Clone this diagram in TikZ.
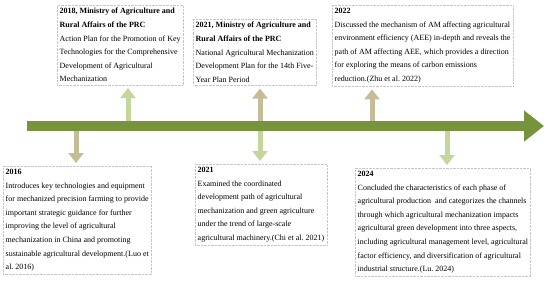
\documentclass[tikz,border=0pt]{standalone}
\usepackage{fontspec}
\setmainfont{Liberation Serif}
\usetikzlibrary{arrows.meta}
\definecolor{axisgreen}{RGB}{119,147,60}
\definecolor{khaki}{RGB}{196,189,151}
\definecolor{palegreen}{RGB}{195,214,155}
\frenchspacing
\begin{document}
\begin{tikzpicture}[x=1pt,y=-1pt]

    \tikzset{
      event/.style={
        draw=gray!45,
        densely dotted,
        anchor=north west,
        align=left,
        inner xsep=2.5pt,
        inner ysep=3pt,
        font=\fontsize{8}{13.6}\selectfont,
      },
      timeline/.style={
        axisgreen,
        line width=10pt,
        -{Triangle[width=30pt,length=20pt]},
      },
      khakilink/.style={
        khaki,
        line width=5pt,
        -{Triangle[width=15pt,length=10pt]},
        shorten >=3pt,
      },
      greenlink/.style={
        palegreen,
        line width=5pt,
        -{Triangle[width=15pt,length=10pt]},
        shorten >=3pt,
      },
    }
    \useasboundingbox (0,0) rectangle (550,281);

    % events above and below the line
    \node[event] (n2016) at (3,166) {\textbf{2016}\\Introduces key technologies and equipment\\for mechanized precision farming to provide\\important strategic guidance for further\\improving the level of agricultural\\mechanization in China and promoting\\sustainable agricultural development.(Luo et\\al. 2016)};
    \node[event] (n2018) at (57,5) {\textbf{2018, Ministry of Agriculture and}\\\textbf{Rural Affairs of the PRC}\\Action Plan for the Promotion of Key\\Technologies for the Comprehensive\\Development of Agricultural\\Mechanization};
    \node[event] (n2021a) at (193,19) {\textbf{2021, Ministry of Agriculture and}\\\textbf{Rural Affairs of the PRC}\\National Agricultural Mechanization\\Development Plan for the 14th Five-\\Year Plan Period};
    \node[event] (n2022) at (332,5) {\textbf{2022}\\Discussed the mechanism of AM affecting agricultural\\environment efficiency (AEE) in-depth and reveals the\\path of AM affecting AEE, which provides a direction\\for exploring the means of carbon emissions\\reduction.(Zhu et al. 2022)};
    \node[event] (n2021b) at (195,164) {\textbf{2021}\\Examined the coordinated\\development path of agricultural\\mechanization and green agriculture\\under the trend of large-scale\\agricultural machinery.(Chi et al. 2021)};
    \node[event] (n2024) at (355,168) {\textbf{2024}\\Concluded the characteristics of each phase of\\agricultural production~ and categorizes the channels\\through which agricultural mechanization impacts\\agricultural green development into three aspects,\\including agricultural management level, agricultural\\factor efficiency, and diversification of agricultural\\industrial structure.(Lu. 2024)};

    \coordinate (start) at (27,126);
    \coordinate (end) at (544,126);
    \coordinate (t2016) at (76,126);
    \coordinate (t2018) at (128,126);
    \coordinate (t2021) at (260,126);
    \coordinate (t2022) at (372,126);
    \coordinate (t2024) at (447,126);

    \draw[khakilink] (t2016) -- (t2016 |- n2016.north);
    \draw[greenlink] (t2018) -- (t2018 |- n2018.south);
    \draw[khakilink] (t2021) -- (t2021 |- n2021a.south);
    \draw[greenlink] (t2021) -- (t2021 |- n2021b.north);
    \draw[khakilink] (t2022) -- (t2022 |- n2022.south);
    \draw[greenlink] (t2024) -- (t2024 |- n2024.north);
    \draw[timeline] (start) -- (end);

\end{tikzpicture}
\end{document}
